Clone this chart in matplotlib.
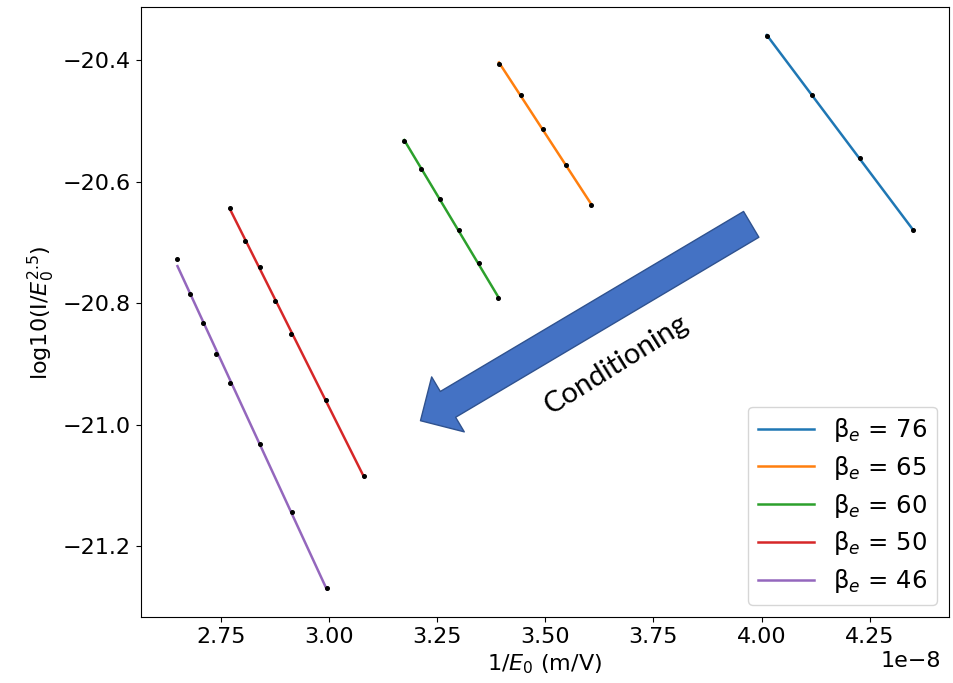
import numpy as np
import matplotlib.pyplot as plt

labels = ["β$_e$ = 76", "β$_e$ = 65", "β$_e$ = 60", "β$_e$ = 50", "β$_e$ = 46"]
colors = ["#1f77b4", "#ff7f0e", "#2ca02c", "#d62728", "#9467bd"]

# 1/E0 (m/V, x1e-8) and log10(I/E0^2.5) for each conditioning step
inv_e0 = [
    [4.012, 4.117, 4.228, 4.349],
    [3.393, 3.443, 3.494, 3.549, 3.605],
    [3.174, 3.214, 3.257, 3.300, 3.346, 3.391],
    [2.772, 2.806, 2.841, 2.875, 2.913, 2.994, 3.081],
    [2.650, 2.678, 2.708, 2.739, 2.772, 2.841, 2.914, 2.995],
]
log_fn = [
    [-20.360, -20.458, -20.561, -20.680],
    [-20.406, -20.457, -20.514, -20.572, -20.638],
    [-20.533, -20.580, -20.628, -20.680, -20.734, -20.792],
    [-20.643, -20.697, -20.741, -20.797, -20.850, -20.960, -21.085],
    [-20.727, -20.785, -20.832, -20.883, -20.931, -21.032, -21.144, -21.269],
]
x_ticks = [2.75, 3.00, 3.25, 3.50, 3.75, 4.00, 4.25]
y_ticks = [-21.2, -21.0, -20.8, -20.6, -20.4]

plt.rcParams["font.size"] = 16
fig = plt.figure(figsize=(9.54, 6.83), dpi=100)
ax = fig.add_axes([0.1475, 0.0966, 0.8476, 0.8927])

for xs, ys, c, lab in zip(inv_e0, log_fn, colors, labels):
    x = np.array(xs) * 1e-8
    y = np.array(ys)
    # straight-line Fowler-Nordheim fit through the measured points
    k, b = np.polyfit(x, y, 1)
    ax.plot(x, k * x + b, color=c, lw=1.8, label=lab)
    ax.plot(x, y, "o", color="black", ms=2.6)

ax.set_xlabel("1/$E_0$ (m/V)")
ax.set_ylabel("log10(I/$E_0^{2.5}$)")
ax.set_xticks(np.array(x_ticks) * 1e-8)
ax.set_yticks(y_ticks)
ax.xaxis.get_offset_text().set_x(0.99)
ax.legend(loc="lower right", fontsize=17.5, handlelength=2.3, labelspacing=0.4)

# block arrow showing the conditioning direction
ax.annotate("", xy=(0.346, 0.322), xytext=(0.755, 0.644),
            xycoords="axes fraction", textcoords="axes fraction",
            arrowprops=dict(arrowstyle="simple,head_length=1.15,head_width=2.3,tail_width=1.08",
                            mutation_scale=20, fc="#4472c4", ec="#2f528f", lw=1,
                            shrinkA=0, shrinkB=0))
ax.text(0.588, 0.414, "Conditioning", transform=ax.transAxes, rotation=32,
        ha="center", va="center", fontsize=21, family="Lato")

fig.savefig("out.png", dpi=100)
